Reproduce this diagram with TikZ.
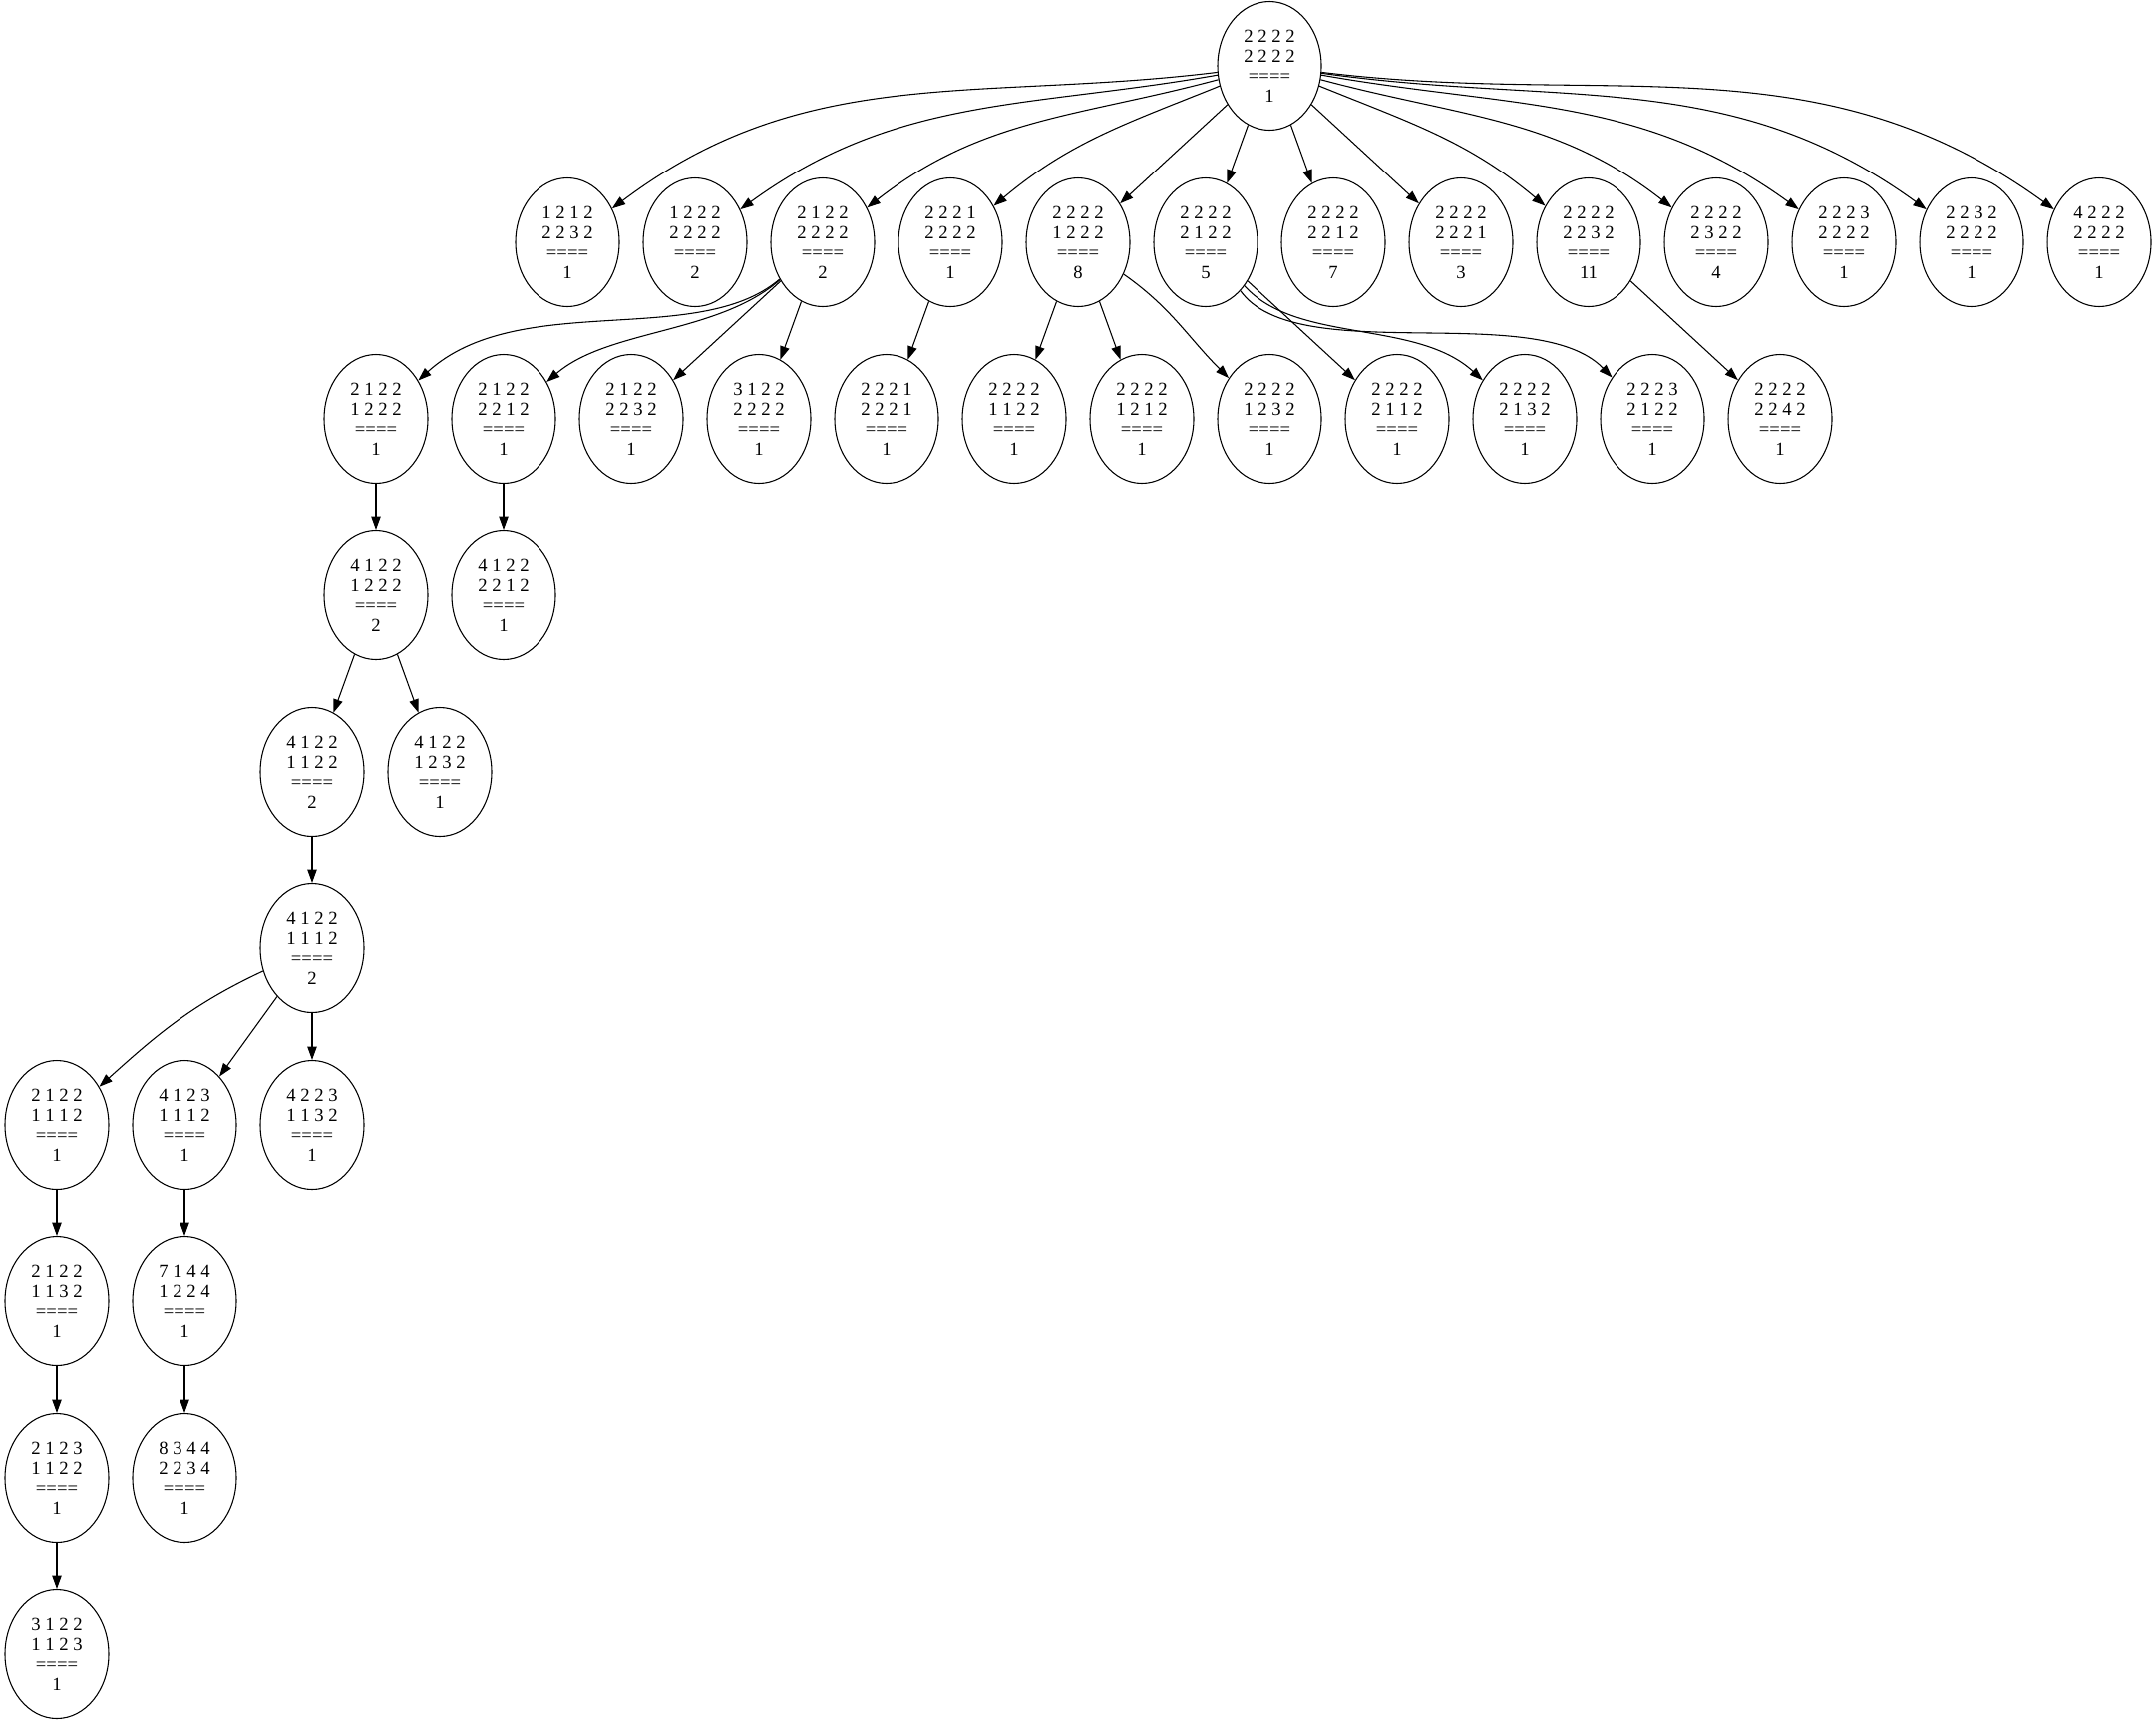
\documentclass[tikz,border=0pt]{standalone}
\usepackage{fontspec}
\setmainfont{Liberation Serif}
\usetikzlibrary{shapes.geometric,arrows.meta}
\begin{document}
\begin{tikzpicture}[x=0.75pt,y=0.75pt,
    state/.style={ellipse,draw,line width=0.8pt,minimum width=78pt,minimum height=96.75pt,
      inner sep=0pt,align=center,font=\fontsize{14}{15}\selectfont},
    edge/.style={-{Triangle[length=10pt,width=7pt]},line width=0.8pt}]
    \useasboundingbox (0,0) rectangle (2162,-1725);

    \node[state] (root) at (1273,-66) {2 2 2 2\\2 2 2 2\\====\\1};

    % level 1
    \node[state] (a1) at (569,-243) {1 2 1 2\\2 2 3 2\\====\\1};
    \node[state] (a2) at (697,-243) {1 2 2 2\\2 2 2 2\\====\\2};
    \node[state] (a3) at (825,-243) {2 1 2 2\\2 2 2 2\\====\\2};
    \node[state] (a4) at (953,-243) {2 2 2 1\\2 2 2 2\\====\\1};
    \node[state] (a5) at (1081,-243) {2 2 2 2\\1 2 2 2\\====\\8};
    \node[state] (a6) at (1209,-243) {2 2 2 2\\2 1 2 2\\====\\5};
    \node[state] (a7) at (1337,-243) {2 2 2 2\\2 2 1 2\\====\\7};
    \node[state] (a8) at (1465,-243) {2 2 2 2\\2 2 2 1\\====\\3};
    \node[state] (a9) at (1593,-243) {2 2 2 2\\2 2 3 2\\====\\11};
    \node[state] (a10) at (1721,-243) {2 2 2 2\\2 3 2 2\\====\\4};
    \node[state] (a11) at (1849,-243) {2 2 2 3\\2 2 2 2\\====\\1};
    \node[state] (a12) at (1977,-243) {2 2 3 2\\2 2 2 2\\====\\1};
    \node[state] (a13) at (2105,-243) {4 2 2 2\\2 2 2 2\\====\\1};

    % level 2
    \node[state] (b1) at (377,-420) {2 1 2 2\\1 2 2 2\\====\\1};
    \node[state] (b2) at (505,-420) {2 1 2 2\\2 2 1 2\\====\\1};
    \node[state] (b3) at (633,-420) {2 1 2 2\\2 2 3 2\\====\\1};
    \node[state] (b4) at (761,-420) {3 1 2 2\\2 2 2 2\\====\\1};
    \node[state] (b5) at (889,-420) {2 2 2 1\\2 2 2 1\\====\\1};
    \node[state] (b6) at (1017,-420) {2 2 2 2\\1 1 2 2\\====\\1};
    \node[state] (b7) at (1145,-420) {2 2 2 2\\1 2 1 2\\====\\1};
    \node[state] (b8) at (1273,-420) {2 2 2 2\\1 2 3 2\\====\\1};
    \node[state] (b9) at (1401,-420) {2 2 2 2\\2 1 1 2\\====\\1};
    \node[state] (b10) at (1529,-420) {2 2 2 2\\2 1 3 2\\====\\1};
    \node[state] (b11) at (1657,-420) {2 2 2 3\\2 1 2 2\\====\\1};
    \node[state] (b12) at (1785,-420) {2 2 2 2\\2 2 4 2\\====\\1};

    % deeper levels
    \node[state] (c1) at (377,-597) {4 1 2 2\\1 2 2 2\\====\\2};
    \node[state] (c2) at (505,-597) {4 1 2 2\\2 2 1 2\\====\\1};
    \node[state] (d1) at (313,-774) {4 1 2 2\\1 1 2 2\\====\\2};
    \node[state] (d2) at (441,-774) {4 1 2 2\\1 2 3 2\\====\\1};
    \node[state] (e1) at (313,-951) {4 1 2 2\\1 1 1 2\\====\\2};
    \node[state] (f1) at (57,-1128) {2 1 2 2\\1 1 1 2\\====\\1};
    \node[state] (f2) at (185,-1128) {4 1 2 3\\1 1 1 2\\====\\1};
    \node[state] (f3) at (313,-1128) {4 2 2 3\\1 1 3 2\\====\\1};
    \node[state] (g1) at (57,-1305) {2 1 2 2\\1 1 3 2\\====\\1};
    \node[state] (g2) at (185,-1305) {7 1 4 4\\1 2 2 4\\====\\1};
    \node[state] (h1) at (57,-1482) {2 1 2 3\\1 1 2 2\\====\\1};
    \node[state] (h2) at (185,-1482) {8 3 4 4\\2 2 3 4\\====\\1};
    \node[state] (i1) at (57,-1659) {3 1 2 2\\1 1 2 3\\====\\1};

    \draw[edge] (root) to[out=187,in=37] (a1);
    \draw[edge] (root) to[out=190,in=36] (a2);
    \draw[edge] (root) to[out=195,in=38] (a3);
    \draw[edge] (root) to[out=202,in=40] (a4);
    \draw[edge] (root) -- (a5);
    \draw[edge] (root) -- (a6);
    \draw[edge] (root) -- (a7);
    \draw[edge] (root) -- (a8);
    \draw[edge] (root) to[out=-22,in=140] (a9);
    \draw[edge] (root) to[out=-15,in=142] (a10);
    \draw[edge] (root) to[out=-10,in=144] (a11);
    \draw[edge] (root) to[out=-8,in=144] (a12);
    \draw[edge] (root) to[out=-7,in=144] (a13);

    \draw[edge] (a3) .. controls (700,-350) and (520,-290) .. (b1);
    \draw[edge] (a3) .. controls (720,-335) and (610,-330) .. (b2);
    \draw[edge] (a3) -- (b3);
    \draw[edge] (a3) -- (b4);
    \draw[edge] (a4) -- (b5);
    \draw[edge] (a5) -- (b6);
    \draw[edge] (a5) -- (b7);
    \draw[edge] (a5) to[out=-35,in=135] (b8);
    \draw[edge] (a6) -- (b9);
    \draw[edge] (a6) .. controls (1300,-345) and (1420,-320) .. (b10);
    \draw[edge] (a6) .. controls (1300,-370) and (1540,-300) .. (b11);
    \draw[edge] (a9) -- (b12);

    \draw[edge] (b1) -- (c1);
    \draw[edge] (b2) -- (c2);
    \draw[edge] (c1) -- (d1);
    \draw[edge] (c1) -- (d2);
    \draw[edge] (d1) -- (e1);
    \draw[edge] (e1) to[out=205,in=42] (f1);
    \draw[edge] (e1) -- (f2);
    \draw[edge] (e1) -- (f3);
    \draw[edge] (f1) -- (g1);
    \draw[edge] (g1) -- (h1);
    \draw[edge] (h1) -- (i1);
    \draw[edge] (f2) -- (g2);
    \draw[edge] (g2) -- (h2);
\end{tikzpicture}
\end{document}
